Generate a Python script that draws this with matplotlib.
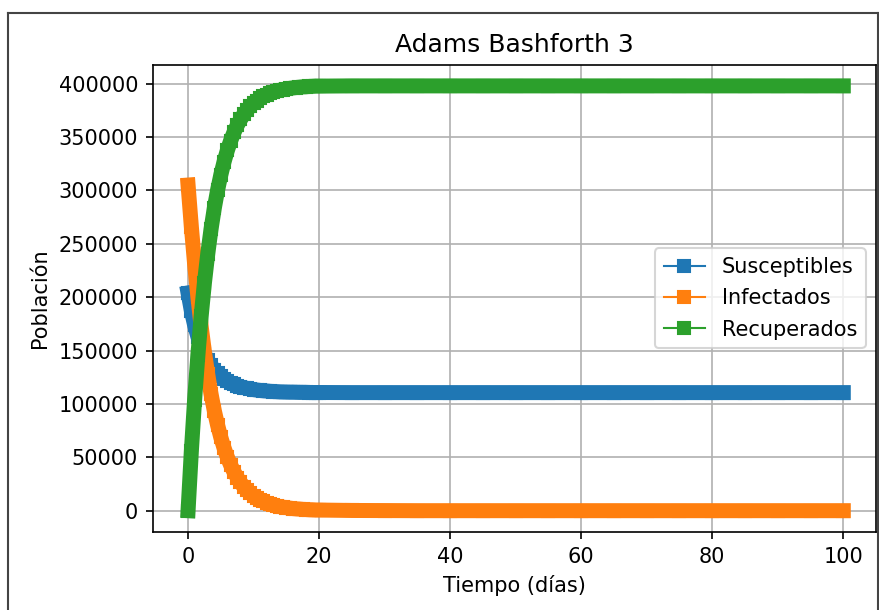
"""
Adams Bashforth 3 - SIR curves (Susceptibles / Infectados / Recuperados).
"""
import matplotlib
matplotlib.use("Agg")
import matplotlib.pyplot as plt
from matplotlib.lines import Line2D

tiempo = [0, 0.5, 1, 1.5, 2, 2.5, 3, 3.5, 4, 4.5, 5, 5.5, 6, 6.5, 7, 7.5,
          8, 8.5, 9, 9.5, 10, 10.5, 11, 11.5, 12, 12.5, 13, 13.5, 14, 14.5,
          15, 15.5, 16, 16.5, 17, 17.5, 18, 18.5, 19, 19.5, 20,
          25, 30, 35, 40, 45, 50, 55, 60, 65, 70, 75, 80, 85, 90, 95, 100]

susceptibles = [204000, 187300, 173800, 163000, 154100, 146900, 141000, 136100,
                132000, 128600, 125800, 123400, 121400, 119700, 118300, 117100,
                116100, 115300, 114600, 114000, 113400, 113000, 112600, 112300,
                112100, 111800, 111600, 111500, 111300, 111200, 111100, 111000,
                111000, 110900, 110800, 110800, 110800, 110700, 110700, 110700,
                110700,
                110600, 110600, 110600, 110600, 110600, 110600, 110600, 110600,
                110600, 110600, 110600, 110600, 110600, 110600, 110600, 110600]

infectados = [305000, 266100, 231100, 200100, 172600, 148600, 127700, 109500,
              93800, 80300, 68600, 58600, 50000, 42700, 36400, 31000,
              26400, 22500, 19200, 16300, 13900, 11800, 10100, 8600,
              7300, 6200, 5300, 4500, 3800, 3300, 2800, 2400,
              2000, 1700, 1500, 1200, 1100, 900, 800, 600,
              600,
              200, 100, 0, 0, 0, 0, 0, 0,
              0, 0, 0, 0, 0, 0, 0, 0]

recuperados = [0, 55600, 104100, 145900, 182300, 213500, 240300, 263400,
               283200, 300100, 314600, 327000, 337600, 346600, 354300, 360900,
               366500, 371200, 375200, 378700, 381700, 384200, 386300, 388100,
               389600, 391000, 392100, 393000, 393900, 394500, 395100, 395600,
               396000, 396400, 396700, 397000, 397100, 397400, 397500, 397700,
               397700,
               397900, 397900, 397900, 397900, 397900, 397900, 397900, 397900,
               397900, 397900, 397900, 397900, 397900, 397900, 397900, 397900]

etiquetas = ["Susceptibles", "Infectados", "Recuperados"]
colores = ["#1f77b4", "#ff7f0e", "#2ca02c"]

# default matplotlib sizes, rendered at 150 dpi like the original notebook
fig = plt.figure(figsize=(880 / 150, 610 / 150), dpi=150)
ax = fig.add_axes([0.1735, 0.128, 0.822, 0.766])

for serie, etiqueta, color in zip([susceptibles, infectados, recuperados],
                                  etiquetas, colores):
    # the dense square markers of the original merge into a thick band
    ax.plot(tiempo, serie, color=color, lw=7.2, solid_capstyle="projecting",
            solid_joinstyle="miter")
    ax.plot(tiempo, serie, "-s", color=color, lw=1.0, label=etiqueta)

ax.set_xlim(-5.4, 105)
ax.set_title("Adams Bashforth 3")
ax.set_xlabel("Tiempo (días)")
ax.set_ylabel("Población")
ax.grid(True)
ax.legend(loc="center right", labelspacing=0.55)

# frame of the notebook output cell
for x0, y0, x1, y1 in [(0.009, 0.0, 0.009, 0.979), (0.009, 0.979, 0.998, 0.979),
                       (0.998, 0.979, 0.998, 0.0)]:
    fig.add_artist(Line2D([x0, x1], [y0, y1], color="#444444", lw=1.0))

fig.savefig("out.png", dpi=150)
